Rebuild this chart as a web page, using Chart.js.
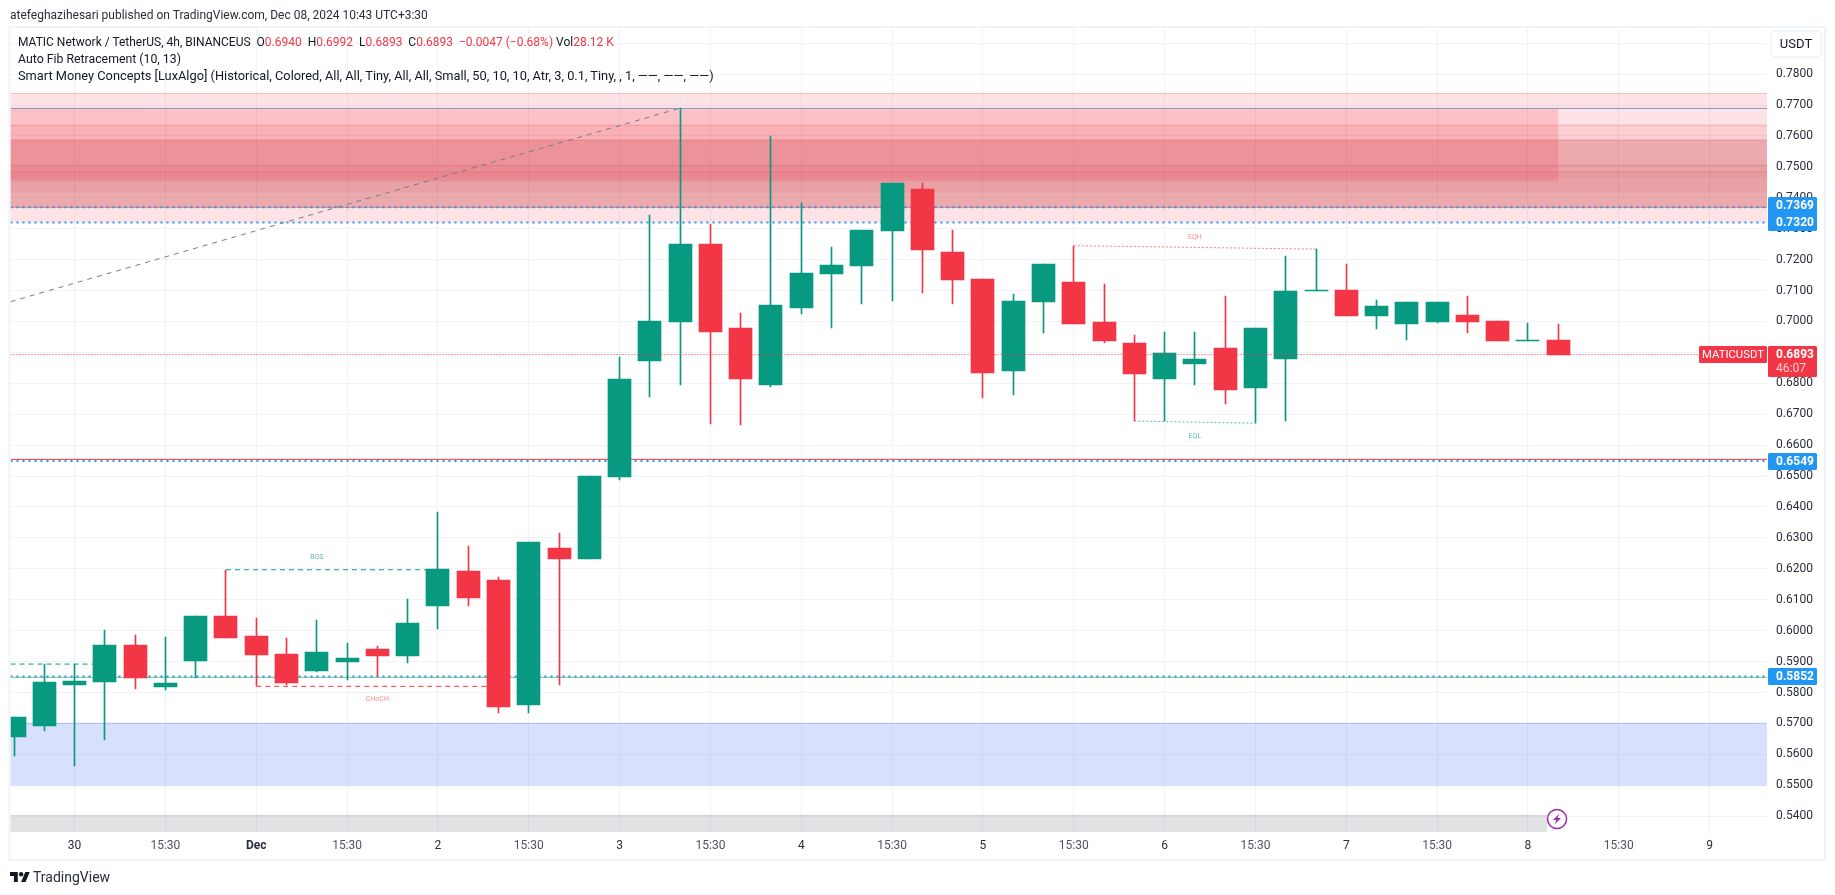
<!DOCTYPE html>
<html>
<head>
<meta charset="utf-8">
<title>MATICUSDT 4h</title>
<script src="https://cdn.jsdelivr.net/npm/chart.js@4"></script>
<style>
    html, body { margin: 0; padding: 0; background: #fff; width: 1835px; height: 895px; overflow: hidden; }
    canvas { position: absolute; left: 0; top: 0; }
    .txt { position: absolute; white-space: pre; font: 12px Roboto, sans-serif; color: #131722; }
    .txt b { font-weight: 400; color: #f23645; }
    #published { left: 10px; top: 8px; color: #2a2e39; }
    #logoText { left: 33px; top: 869px; font-size: 14px; color: #2a2e39; }
    #logo { position: absolute; left: 10px; top: 872px; }
</style>
</head>
<body>
<canvas id="chart" width="1835" height="895"></canvas>
<div class="txt" id="published">atefeghazihesari published on TradingView.com, Dec 08, 2024 10:43 UTC+3:30</div>
<div class="txt" style="left:18px;top:35px">MATIC Network / TetherUS, 4h, BINANCEUS  O<b>0.6940</b>  H<b>0.6992</b>  L<b>0.6893</b>  C<b>0.6893</b>  <b>−0.0047 (−0.68%)</b> Vol<b>28.12 K</b></div>
<div class="txt" style="left:18px;top:52px;font-size:12.3px">Auto Fib Retracement (10, 13)</div>
<div class="txt" style="left:18px;top:68px;font-size:12.8px">Smart Money Concepts [LuxAlgo] (Historical, Colored, All, All, Tiny, All, All, Small, 50, 10, 10, Atr, 3, 0.1, Tiny, , 1, ——, ——, ——)</div>
<svg id="logo" width="20" height="10" viewBox="0 4 36 18"><path fill="#131722" d="M14 22H7V11H0V4h14v18zM28 22h-8l7.5-18h8L28 22z"/><circle fill="#131722" cx="20" cy="8" r="4"/></svg>
<div class="txt" id="logoText">TradingView</div>
<script>
// candles, 4h bars
const open_ = [0.5657,0.5692,0.5825,0.5835,0.5954,0.5818,0.5903,0.6048,0.5983,0.5925,0.5870,0.5899,0.5941,0.5919,0.6080,0.6194,0.6165,0.5760,0.6268,0.6232,
    0.6498,0.6873,0.6999,0.7251,0.6980,0.6795,0.7044,0.7154,0.7180,0.7293,0.7429,0.7225,0.7138,0.6840,0.7064,0.7128,0.6999,0.6931,0.6815,0.6863,
    0.6915,0.6785,0.6879,0.7099,0.7102,0.7018,0.6992,0.6999,0.7022,0.7002,0.6938,0.6940];
const high = [0.5721,0.5892,0.5892,0.6003,0.5987,0.5980,0.6048,0.6197,0.6042,0.5977,0.6035,0.5961,0.5951,0.6103,0.6384,0.6274,0.6174,0.6287,0.6316,0.6501,
    0.6886,0.7345,0.7690,0.7316,0.7028,0.7600,0.7384,0.7241,0.7296,0.7448,0.7448,0.7296,0.7138,0.7089,0.7186,0.7245,0.7122,0.6957,0.6967,0.6967,
    0.7083,0.6980,0.7212,0.7234,0.7187,0.7070,0.7064,0.7064,0.7083,0.7002,0.6996,0.6992];
const low = [0.5595,0.5676,0.5561,0.5647,0.5812,0.5809,0.5848,0.5977,0.5820,0.5825,0.5867,0.5841,0.5852,0.5896,0.6006,0.6080,0.5734,0.5734,0.5825,0.6232,
    0.6488,0.6756,0.6795,0.6669,0.6666,0.6789,0.7025,0.6980,0.7057,0.7067,0.7093,0.7057,0.6753,0.6763,0.6963,0.6992,0.6931,0.6678,0.6678,0.6795,
    0.6734,0.6671,0.6679,0.7099,0.7018,0.6976,0.6941,0.6996,0.6963,0.6938,0.6938,0.6893];
const close_ = [0.5721,0.5835,0.5838,0.5954,0.5848,0.5831,0.6048,0.5977,0.5922,0.5831,0.5932,0.5912,0.5919,0.6025,0.6200,0.6106,0.5754,0.6287,0.6232,0.6501,
    0.6815,0.7002,0.7251,0.6967,0.6815,0.7054,0.7157,0.7183,0.7296,0.7448,0.7232,0.7135,0.6834,0.7067,0.7186,0.6992,0.6937,0.6831,0.6899,0.6879,
    0.6779,0.6980,0.7099,0.7102,0.7018,0.7051,0.7064,0.7064,0.6999,0.6938,0.6940,0.6893];

// axis ticks
const xTickIndex = [2,5,8,11,14,17,20,23,26,29,32,35,38,41,44,47,50,53,56];
const xTickLabels = ['30','15:30','Dec','15:30','2','15:30','3','15:30','4','15:30','5','15:30','6','15:30','7','15:30','8','15:30','9'];
const priceTicks = [0.54,0.55,0.56,0.57,0.58,0.59,0.60,0.61,0.62,0.63,0.64,0.65,0.66,0.67,0.68,0.69,0.70,0.71,0.72,0.73,0.74,0.75,0.76,0.77,0.78,0.79];

// visible range of the axes
const xMin = -0.1156, xMax = 57.894;
const yMin = 0.53489, yMax = 0.79491;

// supply zones on the right: top, bottom, fill
const zoneTops = [0.7739,0.7636,0.7588,0.7507,0.7485];
const zoneBottoms = [0.7320,0.7369,0.7369,0.7417,0.7465];
const zoneFills = ['rgba(242,54,69,.14)','rgba(242,54,69,.12)','rgba(178,40,51,.22)','rgba(200,45,55,.07)','rgba(200,45,55,.07)'];

// horizontal levels and structure lines
const fibX = [xMin,22], fibY = [0.7064,0.7690];
const topLineY = 0.7689, lastPrice = 0.6893;
const bosX = [7,14], bosY = [0.6197,0.6197];
const chochX = [8,16], chochY = [0.5820,0.5820];
const oldHighX = [xMin,3], oldHighY = [0.5892,0.5892];
const eqhX = [35,43], eqhY = [0.7245,0.7234];
const eqlX = [37,41], eqlY = [0.6678,0.6671];
const blueDotted = [0.7369,0.7320,0.6549,0.5852];
const redLevel = 0.6554, redZoneLine = 0.7369, greenLevel = 0.5849;

function candleColor(i) {
    return close_[i] >= open_[i] ? '#089981' : '#f23645';
}

function flatLine(label, xs, ys, color, width, dash, order) {
    return {
        type: 'line', label: label,
        data: xs.map(function(x, i) { return { x: x, y: ys[i] }; }),
        borderColor: color, borderWidth: width, borderDash: dash || [],
        pointRadius: 0, fill: false, tension: 0, order: order === undefined ? 5 : order
    };
}

const wickData = high.map(function(h, i) { return { x: i, y: [low[i], h] }; });
const bodyData = open_.map(function(o, i) { return { x: i, y: [o, close_[i]] }; });
const barColors = open_.map(function(o, i) { return candleColor(i); });

// same order: earlier datasets land on top
const lineSets = blueDotted.map(function(p) {
    return flatLine('level' + p, [xMin, xMax], [p, p], '#2196f3', 2, [2, 4]);
});
lineSets.push(
    flatLine('last', [xMin, xMax], [lastPrice, lastPrice], '#f23645', 1, [1, 2], 0),
    flatLine('fib', fibX, fibY, '#787b86', 1, [5, 5]),
    flatLine('top', [xMin, xMax], [topLineY, topLineY], '#7f9ace', 1),
    flatLine('zoneline', [xMin, xMax], [redZoneLine, redZoneLine], '#f2364588', 1),
    flatLine('red', [xMin, xMax], [redLevel, redLevel], '#f23645', 1),
    flatLine('green', [xMin, xMax], [greenLevel, greenLevel], '#7cc48a', 1),
    flatLine('bos', bosX, bosY, '#089981', 1, [5, 4]),
    flatLine('choch', chochX, chochY, '#f23645', 1, [5, 4]),
    flatLine('old', oldHighX, oldHighY, '#089981', 1, [5, 4]),
    flatLine('eqh', eqhX, eqhY, '#f23645aa', 1, [2, 2]),
    flatLine('eql', eqlX, eqlY, '#089981aa', 1, [2, 2])
);

// keep the candles crisp, the library leaves them on fractional pixels
function snapBars(chart) {
    chart.getSortedVisibleDatasetMetas().forEach(function(meta) {
        if (meta.type !== 'bar') return;
        meta.data.forEach(function(bar) {
            bar.x = Math.floor(bar.x) + 0.5;
            bar.y = Math.round(bar.y);
            bar.base = Math.round(bar.base);
            if (Math.abs(bar.base - bar.y) < 1) bar.base = bar.y + 1;
            bar.height = Math.abs(bar.base - bar.y);
        });
    });
}

const drawExtras = {
    id: 'drawExtras',
    beforeDatasetsDraw: function(chart) {
        snapBars(chart);
        const c = chart.ctx, xs = chart.scales.x, ys = chart.scales.y;
        const left = chart.chartArea.left, right = chart.chartArea.right, bottom = chart.chartArea.bottom;
        zoneTops.forEach(function(t, i) {
            const y1 = ys.getPixelForValue(t), y2 = ys.getPixelForValue(zoneBottoms[i]);
            c.fillStyle = zoneFills[i];
            c.fillRect(left, y1, right - left, y2 - y1);
            c.fillStyle = 'rgba(225,80,90,.25)';
            c.fillRect(left, y1, right - left, 1);
        });
        // older zone stops at the last candle
        const y1 = ys.getPixelForValue(0.7690), y2 = ys.getPixelForValue(0.7453);
        const endX = xs.getPixelForValue(51);
        c.fillStyle = 'rgba(242,54,69,.2)';
        c.fillRect(left, y1, endX - left, y2 - y1);
        // demand zone
        const b1 = ys.getPixelForValue(0.5702), b2 = ys.getPixelForValue(0.5502);
        c.fillStyle = 'rgba(41,98,240,.19)';
        c.fillRect(left, b1, right - left, b2 - b1);
        c.fillStyle = 'rgba(41,98,240,.2)';
        c.fillRect(left, b1, right - left, 1);
        c.fillRect(left, b2, right - left, 1);
        // grey strip at the bottom of the plot
        c.fillStyle = 'rgba(120,123,134,.22)';
        c.fillRect(left, 815, 1547 - left, bottom - 815);
        c.fillStyle = 'rgba(120,123,134,.12)';
        c.fillRect(left, 815, 1547 - left, 1);
    },
    afterDraw: function(chart) {
        const c = chart.ctx, xs = chart.scales.x, ys = chart.scales.y;
        c.save();
        // frame
        c.strokeStyle = '#f0f3fa';
        c.lineWidth = 2;
        c.strokeRect(9.5, 27, 1815.5, 833);

        // small structure labels
        c.textAlign = 'center';
        c.textBaseline = 'middle';
        c.font = '7px Roboto, sans-serif';
        c.fillStyle = 'rgba(8,153,129,.65)';
        c.fillText('BOS', xs.getPixelForValue(10), ys.getPixelForValue(0.6239));
        c.fillText('EQL', xs.getPixelForValue(39), ys.getPixelForValue(0.6629));
        c.fillStyle = 'rgba(242,54,69,.6)';
        c.fillText('CHoCH', xs.getPixelForValue(12), ys.getPixelForValue(0.5777));
        c.fillText('EQH', xs.getPixelForValue(39), ys.getPixelForValue(0.7272));

        // price tags
        function tag(x, y, w, h, color) {
            c.fillStyle = color;
            c.beginPath();
            c.roundRect(x, y, w, h, 1.5);
            c.fill();
        }
        function tagText(txt, x, y, color, font) {
            c.fillStyle = color;
            c.font = font || '700 12px Roboto, sans-serif';
            c.fillText(txt, x, y);
        }
        c.textAlign = 'left';
        tag(1768, 197, 49, 34, '#2196f3');
        tagText('0.7369', 1776, 206, '#fff');
        tagText('0.7320', 1776, 223, '#fff');
        tag(1768, 453, 49, 17, '#2196f3');
        tagText('0.6549', 1776, 462, '#fff');
        tag(1768, 668, 49, 17, '#2196f3');
        tagText('0.5852', 1776, 677, '#fff');
        tag(1768, 346, 49, 31, '#f23645');
        tagText('0.6893', 1776, 355, '#fff');
        tagText('46:07', 1776, 369, '#fbd0d4', '12px Roboto, sans-serif');
        tag(1699, 346, 68, 17, '#f23645');
        c.textAlign = 'center';
        tagText('MATICUSDT', 1733, 355, '#fff', '11.3px Roboto, sans-serif');

        // currency button
        c.fillStyle = '#fff';
        c.strokeStyle = '#f0f3fa';
        c.lineWidth = 1.5;
        c.beginPath();
        c.roundRect(1771, 31, 50, 26, 4);
        c.fill();
        c.stroke();
        tagText('USDT', 1796, 44.5, '#131722', '13px Roboto, sans-serif');

        // realtime bolt badge
        c.beginPath();
        c.arc(1557, 819, 9.5, 0, Math.PI * 2);
        c.fillStyle = '#fff';
        c.fill();
        c.lineWidth = 1.5;
        c.strokeStyle = '#9c27b0';
        c.stroke();
        c.fillStyle = '#9c27b0';
        c.beginPath();
        c.moveTo(1559.5, 813.5);
        c.lineTo(1553, 820);
        c.lineTo(1556.5, 820);
        c.lineTo(1554.5, 824.5);
        c.lineTo(1561, 818);
        c.lineTo(1557.5, 818);
        c.closePath();
        c.fill();
        c.restore();
    }
};

new Chart(document.getElementById('chart').getContext('2d'), {
    type: 'bar',
    data: {
        datasets: lineSets.concat([
            {
                label: 'wick', data: wickData, backgroundColor: barColors,
                barThickness: 1, grouped: false, borderWidth: 0, order: 2
            },
            {
                label: 'body', data: bodyData, backgroundColor: barColors,
                barThickness: 23, grouped: false, borderWidth: 0, order: 1
            }
        ])
    },
    plugins: [drawExtras],
    options: {
        responsive: false,
        animation: false,
        events: [],
        layout: { padding: { left: 10.5, top: 28, right: 10, bottom: 35 } },
        plugins: { legend: { display: false }, tooltip: { enabled: false } },
        scales: {
            x: {
                type: 'linear', offset: false, min: xMin, max: xMax,
                grid: { offset: false, color: '#f0f3fa', drawTicks: false },
                border: { display: false },
                afterBuildTicks: function(scale) {
                    scale.ticks = xTickIndex.map(function(v) { return { value: v }; });
                },
                afterFit: function(scale) { scale.height = 28; },
                ticks: {
                    autoSkip: false, maxRotation: 0, padding: 7,
                    callback: function(v) { return xTickLabels[xTickIndex.indexOf(v)]; },
                    font: function(ctx) {
                        const bold = ctx.tick && ctx.tick.label === 'Dec';
                        return { family: 'Roboto, sans-serif', size: 12, weight: bold ? '700' : '400' };
                    },
                    color: function(ctx) {
                        return ctx.tick && ctx.tick.label === '15:30' ? '#50535e' : '#2a2e39';
                    }
                }
            },
            y: {
                position: 'right', min: yMin, max: yMax,
                grid: { color: '#f0f3fa', drawTicks: false },
                border: { display: false },
                afterBuildTicks: function(scale) {
                    scale.ticks = priceTicks.map(function(v) { return { value: v }; });
                },
                afterFit: function(scale) { scale.width = 58; },
                ticks: {
                    autoSkip: false, padding: 9, color: '#2a2e39',
                    font: { family: 'Roboto, sans-serif', size: 12 },
                    callback: function(v) { return v.toFixed(4); }
                }
            }
        }
    }
});
</script>
</body>
</html>
